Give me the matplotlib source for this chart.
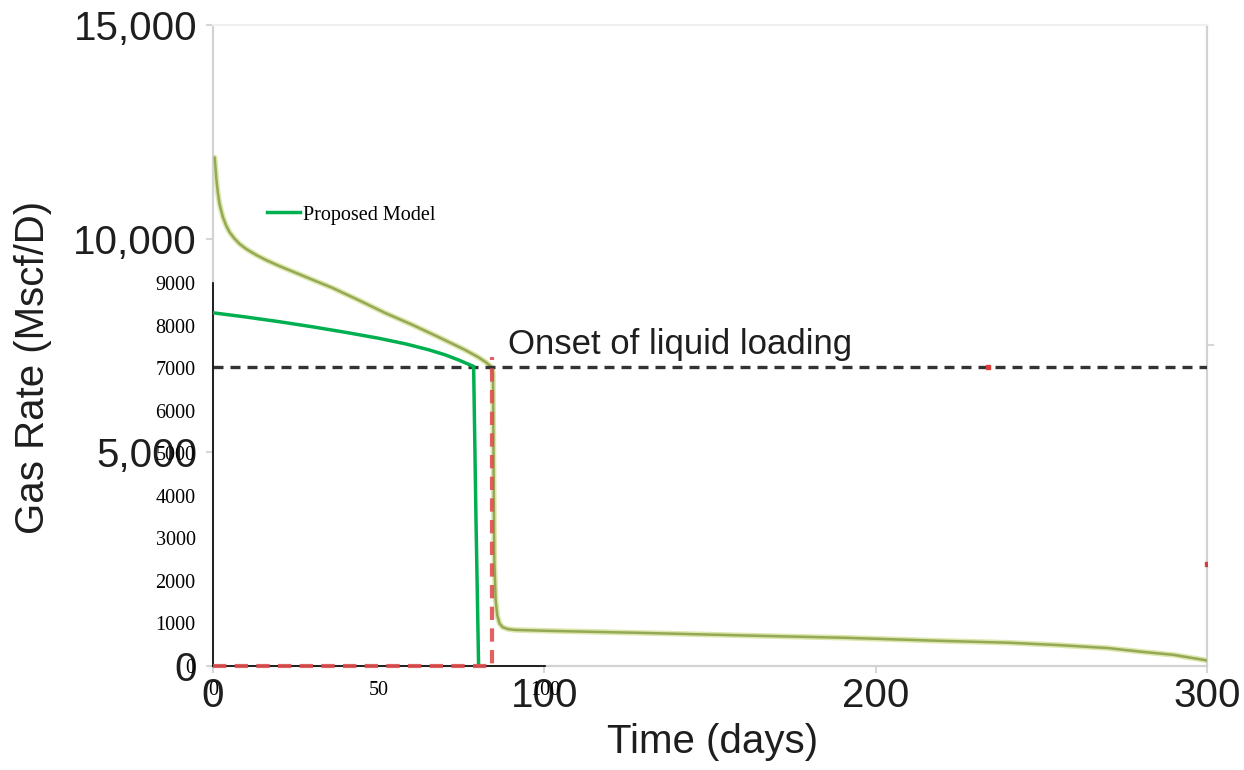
import matplotlib
matplotlib.use("Agg")
import matplotlib.pyplot as plt

# ---------------- data ----------------
# Outer chart (field data, olive curve)
olive_t = [0.5, 1.0, 1.5, 2.0, 3.0, 4.0, 5.0, 6.5, 8, 10, 13, 16, 20, 25, 30, 36, 44, 52,
           60, 68, 76, 80, 82.5, 84.0,
           84.5, 84.7, 84.9, 85.3, 85.8, 86.5, 87.5, 89, 91, 100, 131, 160, 191, 219,
           240, 255, 270, 280, 290, 300]
olive_rate = [11900, 11400, 11050, 10800, 10500, 10300, 10150, 10000, 9880, 9760, 9620,
              9500, 9360, 9200, 9040, 8850, 8560, 8260, 7990, 7700, 7400, 7230, 7100, 7000,
              6850, 4500, 2500, 1550, 1180, 990, 905, 865, 845, 825, 772, 715, 660, 590,
              545, 490, 420, 335, 260, 130]
critical_t = [0, 300]
critical_rate = [7000, 7000]
red_spot_t = [234, 300]
red_spot_rate = [7000, 2380]

outer_xticks = [0, 100, 200, 300]
outer_xlabels = ["0", "100", "200", "300"]
outer_yticks = [0, 5000, 10000, 15000]
outer_ylabels = ["0", "5,000", "10,000", "15,000"]
right_ticks = [7500, 15000]

# Inner chart (proposed model)
model_t = [0, 10, 20, 30, 40, 50, 58, 65, 70, 74, 77, 78.5, 79.2, 80]
model_rate = [8300, 8200, 8090, 7970, 7840, 7700, 7570, 7430, 7310, 7190, 7090, 7040, 3500, 0]
loading_t = [0, 84, 84]
loading_rate = [0, 0, 7250]

inner_xticks = [0, 50, 100]
inner_yticks = [0, 1000, 2000, 3000, 4000, 5000, 6000, 7000, 8000, 9000]

W, H = 1244, 770
fig = plt.figure(figsize=(W / 100, H / 100), dpi=100)

# ---------------- outer axes ----------------
L, R, B, T = 213, 1207, 666, 25
ax = fig.add_axes([L / W, 1 - B / H, (R - L) / W, (B - T) / H])
ax.set_xlim(0, 300)
ax.set_ylim(0, 15000)
sans = "Liberation Sans"
ax.plot(olive_t, olive_rate, color="#dde7ad", lw=4.0, solid_capstyle="round", zorder=2)
ax.plot(olive_t, olive_rate, color="#94a955", lw=1.8, solid_capstyle="round", zorder=3)
ax.plot(critical_t, critical_rate, color="#333333", lw=2.4, dashes=(3, 2.1), zorder=4)
ax.plot(red_spot_t, red_spot_rate, ls="none", marker="s", ms=2.5, color="#d83c3c", zorder=5)

for s in ["left", "right", "bottom"]:
    ax.spines[s].set_color("#d2d2d2")
    ax.spines[s].set_linewidth(1.6)
ax.spines["top"].set_color("#efefef")
ax.spines["top"].set_linewidth(1.5)

ax.set_xticks(outer_xticks)
ax.set_xticklabels(outer_xlabels)
ax.set_yticks(outer_yticks)
ax.set_yticklabels(outer_ylabels)
ax.tick_params(axis="both", colors="#d2d2d2", labelcolor="#1e1e1e", length=5, width=1.3,
               labelsize=29, direction="out")
ax.tick_params(axis="y", pad=6.5)
ax.tick_params(axis="x", pad=3)
for lab in ax.get_xticklabels() + ax.get_yticklabels():
    lab.set_fontfamily(sans)
ax.set_yticks(right_ticks, minor=True)
ax.tick_params(axis="y", which="minor", left=False, right=True, length=5, width=1.3,
               colors="#d2d2d2")

ax.text(89, 7290, "Onset of liquid loading", fontsize=25, family=sans, color="#1e1e1e",
        ha="left", va="baseline", zorder=6)

fig.text(713 / W, 1 - 742 / H, "Time (days)", fontsize=29, family=sans, color="#1e1e1e",
         ha="center", va="center")
fig.text(33 / W, 1 - 367 / H, "Gas Rate (Mscf/D)", fontsize=29, family=sans, color="#1e1e1e",
         ha="center", va="center", rotation=90)

# ---------------- inner axes ----------------
iL, iR, iB, iT = 213, 545, 666, 283
ax2 = fig.add_axes([iL / W, 1 - iB / H, (iR - iL) / W, (iB - iT) / H])
ax2.patch.set_visible(False)
ax2.set_xlim(0, 100)
ax2.set_ylim(0, 9000)
ax2.plot(model_t, model_rate, color="#00b050", lw=2.5, label="Proposed Model", zorder=3)
ax2.plot(loading_t, loading_rate, color="#e0504f", lw=3.0, dashes=(3.2, 2), alpha=0.9,
         zorder=4, clip_on=False)
for s in ["top", "right"]:
    ax2.spines[s].set_visible(False)
for s in ["left", "bottom"]:
    ax2.spines[s].set_color("black")
    ax2.spines[s].set_linewidth(1.2)
ax2.set_xticks(inner_xticks)
ax2.set_yticks(inner_yticks)
ax2.set_xticklabels([str(v) for v in inner_xticks])
ax2.set_yticklabels([str(v) for v in inner_yticks])
serif = "Liberation Serif"
ax2.tick_params(axis="both", length=0, labelsize=14.5, labelcolor="black")
ax2.tick_params(axis="y", pad=12.5)
ax2.tick_params(axis="x", pad=11)
for lab in ax2.get_xticklabels() + ax2.get_yticklabels():
    lab.set_fontfamily(serif)

leg = ax2.legend(loc="center left", bbox_to_anchor=(267 / W, 1 - 215 / H),
                 bbox_transform=fig.transFigure, frameon=False, borderpad=0,
                 borderaxespad=0, handlelength=1.65, handletextpad=0.15,
                 prop={"family": serif, "size": 14.5})

fig.savefig("out.png", dpi=100)
